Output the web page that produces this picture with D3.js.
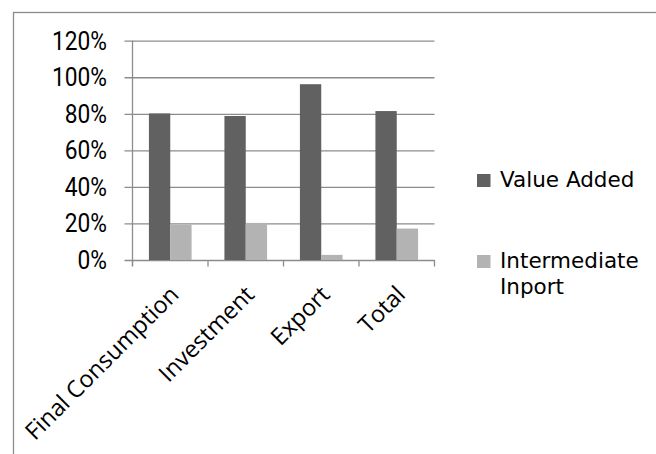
<!DOCTYPE html>
<html>
<head>
<meta charset="utf-8">
<script src="https://cdn.jsdelivr.net/npm/d3@7"></script>
<style>
  html, body { margin: 0; padding: 0; background: #ffffff; }
  svg { display: block; }
</style>
</head>
<body>
<script>
// Share of value added vs. intermediate import by final demand component
const categories = ["Final Consumption", "Investment", "Export", "Total"];
const seriesNames = ["Value Added", "Intermediate\nInport"];
const valueAdded = [80.2, 78.8, 96.2, 81.5];
const intermediateImport = [19.4, 20.3, 2.8, 17.2];
const yTicks = [0, 20, 40, 60, 80, 100, 120];

const W = 656, H = 454;
const colors = ["#616161", "#b3b3b3"];
const gridColor = "#8c8c8c";

const svg = d3.select("body").append("svg")
  .attr("width", W).attr("height", H);

// chart area border (continues past the right and bottom edges)
svg.append("rect")
  .attr("x", 13.5).attr("y", 12.5)
  .attr("width", W + 20).attr("height", H + 20)
  .attr("fill", "none").attr("stroke", gridColor).attr("stroke-width", 1.3);

const plot = { left: 132.5, right: 434.5, top: 40.7, bottom: 260 };

const x = d3.scaleBand().domain(categories)
  .range([plot.left, plot.right]).paddingInner(0).paddingOuter(0);
const xs = d3.scaleBand().domain(d3.range(seriesNames.length))
  .range([0, x.bandwidth()]).paddingInner(0).paddingOuter(0.77);
const y = d3.scaleLinear().domain([0, 120]).range([plot.bottom, plot.top]);

// horizontal gridlines with left tick marks
const yAxis = d3.axisLeft(y).tickValues(yTicks)
  .tickSize(-(plot.right - plot.left)).tickFormat(d => d + "%");
const gy = svg.append("g").attr("transform", `translate(${plot.left},0)`).call(yAxis);
gy.select(".domain").remove();
gy.selectAll(".tick line")
  .attr("x1", -8)
  .attr("stroke", gridColor).attr("stroke-width", 1.3);
gy.selectAll(".tick text")
  .attr("x", 0).attr("y", 0).attr("dy", null)
  .attr("transform", "translate(-25.5,8.5) scale(0.91,1)")
  .attr("fill", "#000")
  .style("font-family", "Roboto, sans-serif")
  .style("font-size", "25px");

// vertical axis line
svg.append("line")
  .attr("x1", plot.left).attr("x2", plot.left)
  .attr("y1", plot.top).attr("y2", plot.bottom + 6)
  .attr("stroke", gridColor).attr("stroke-width", 1.3);

// bars
const data = categories.map((c, i) => ({ cat: c, vals: [valueAdded[i], intermediateImport[i]] }));
svg.append("g").selectAll("g").data(data).join("g")
  .attr("transform", d => `translate(${x(d.cat)},0)`)
  .selectAll("rect").data(d => d.vals.map((v, k) => ({ v, k }))).join("rect")
  .attr("x", d => xs(d.k)).attr("width", xs.bandwidth())
  .attr("y", d => y(d.v)).attr("height", d => y(0) - y(d.v))
  .attr("fill", d => colors[d.k]);

// category boundary ticks below the baseline
const xEdges = categories.map(c => x(c)).concat([plot.right]);
svg.append("g").selectAll("line").data(xEdges).join("line")
  .attr("x1", d => d).attr("x2", d => d)
  .attr("y1", plot.bottom).attr("y2", plot.bottom + 6.5)
  .attr("stroke", gridColor).attr("stroke-width", 1.3);

// rotated category labels
svg.append("g").selectAll("text").data(categories).join("text")
  .attr("transform", d => `translate(${x(d) + x.bandwidth() / 2 + 10},${plot.bottom + 36}) rotate(-45)`)
  .attr("text-anchor", "end")
  .style("font-family", "'Open Sans', sans-serif")
  .style("font-size", "23.5px")
  .attr("fill", "#000")
  .text(d => d);

// legend
const legendY = [174, 255];
const lg = svg.append("g");
seriesNames.forEach((name, k) => {
  lg.append("rect")
    .attr("x", 477).attr("y", legendY[k])
    .attr("width", 13.5).attr("height", 13)
    .attr("fill", colors[k]);
  const t = lg.append("text")
    .attr("x", 500).attr("y", legendY[k] + 13)
    .style("font-family", "'DejaVu Sans', sans-serif")
    .style("font-size", "21.5px")
    .attr("fill", "#000");
  name.split("\n").forEach((line, j) => {
    t.append("tspan").attr("x", 500).attr("dy", j === 0 ? 0 : 26).text(line);
  });
});
</script>
</body>
</html>
